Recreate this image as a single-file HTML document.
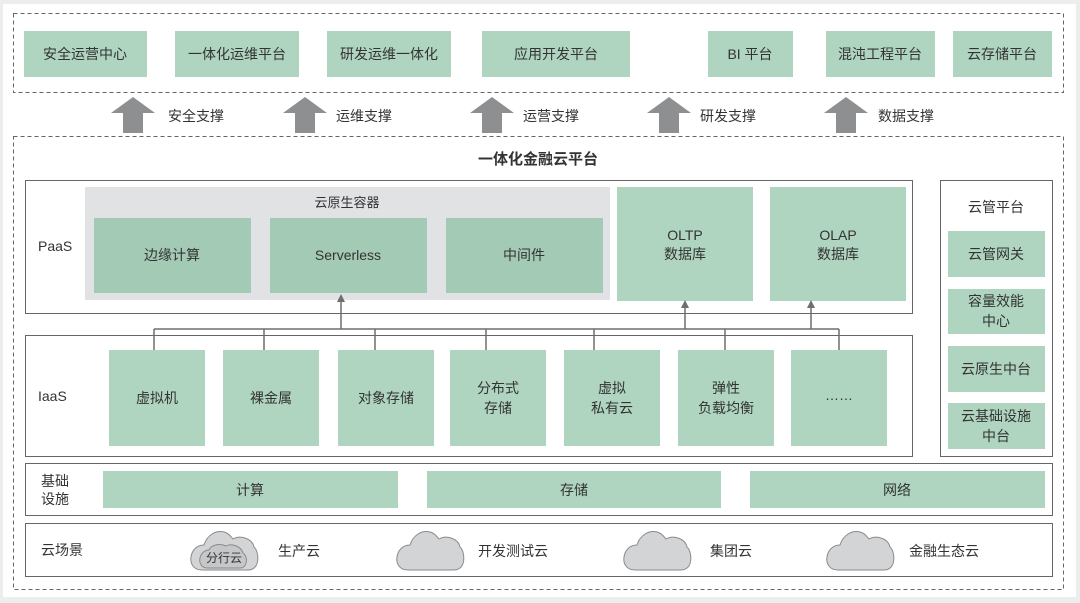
<!DOCTYPE html>
<html><head><meta charset="utf-8"><style>
html,body{margin:0;padding:0;background:#eceeed;}
svg{display:block}
text{font-family:"Liberation Sans","Noto Sans CJK SC",sans-serif;fill:#333;font-size:14px}
.c{text-anchor:middle}
</style></head><body>
<svg width="1080" height="603" viewBox="0 0 1080 603" xmlns="http://www.w3.org/2000/svg">
<defs>
<path id="cl" d="M12,41 C3,41 0,34 1,28 C2,21 7,16 14,16 C17,6 26,1 34,3 C39,4 41,8 43,10 C50,6 62,9 64,18 C69,22 71,41 58,41 Z" fill="#d3d4d6" stroke="#8a8a8a" stroke-width="1"/>
<path id="ar" d="M-22,16 L0,0 L22,16 L10,16 L10,36 L-10,36 L-10,16 Z" fill="#8e8f91"/>
</defs>
<rect x="3" y="4" width="1073" height="593" fill="#fff"/>
<rect x="13.5" y="13.5" width="1050" height="79" fill="none" stroke="#666" stroke-dasharray="4,3"/>
<g fill="#afd5c0">
<rect x="24" y="31" width="123" height="46"/><rect x="175" y="31" width="124" height="46"/><rect x="327" y="31" width="124" height="46"/><rect x="482" y="31" width="148" height="46"/><rect x="708" y="31" width="85" height="46"/><rect x="826" y="31" width="109" height="46"/><rect x="953" y="31" width="99" height="46"/>
</g>
<text x="85" y="59" class="c">安全运营中心</text><text x="237" y="59" class="c">一体化运维平台</text><text x="389" y="59" class="c">研发运维一体化</text><text x="556" y="59" class="c">应用开发平台</text><text x="750" y="59" class="c">BI 平台</text><text x="880" y="59" class="c">混沌工程平台</text><text x="1002" y="59" class="c">云存储平台</text>
<use href="#ar" x="133" y="97"/><use href="#ar" x="305" y="97"/><use href="#ar" x="492" y="97"/><use href="#ar" x="669" y="97"/><use href="#ar" x="846" y="97"/>
<text x="168" y="121">安全支撑</text><text x="336" y="121">运维支撑</text><text x="523" y="121">运营支撑</text><text x="700" y="121">研发支撑</text><text x="878" y="121">数据支撑</text>
<rect x="13.5" y="136.5" width="1050" height="453" fill="none" stroke="#666" stroke-dasharray="4,3"/>
<text x="538" y="164" class="c" style="font-size:15px;font-weight:bold">一体化金融云平台</text>
<rect x="25.5" y="180.5" width="887" height="133" fill="#fff" stroke="#666"/>
<text x="38" y="251">PaaS</text>
<rect x="85" y="187" width="525" height="113" fill="#e1e2e3"/>
<text x="347" y="207" class="c" style="font-size:13px">云原生容器</text>
<g fill="#a3cab5"><rect x="94" y="218" width="157" height="75"/><rect x="270" y="218" width="157" height="75"/><rect x="446" y="218" width="157" height="75"/></g>
<text x="172" y="260" class="c">边缘计算</text><text x="348" y="260" class="c">Serverless</text><text x="524" y="260" class="c">中间件</text>
<g fill="#afd5c0"><rect x="617" y="187" width="136" height="114"/><rect x="770" y="187" width="136" height="114"/></g>
<text x="685" y="240" class="c">OLTP</text><text x="685" y="259" class="c">数据库</text>
<text x="838" y="240" class="c">OLAP</text><text x="838" y="259" class="c">数据库</text>
<rect x="25.5" y="335.5" width="887" height="121" fill="#fff" stroke="#666"/>
<text x="38" y="401">IaaS</text>
<g fill="#afd5c0">
<rect x="109" y="350" width="96" height="96"/><rect x="223" y="350" width="96" height="96"/><rect x="338" y="350" width="96" height="96"/><rect x="450" y="350" width="96" height="96"/><rect x="564" y="350" width="96" height="96"/><rect x="678" y="350" width="96" height="96"/><rect x="791" y="350" width="96" height="96"/>
</g>
<text x="157" y="403" class="c">虚拟机</text><text x="271" y="403" class="c">裸金属</text><text x="386" y="403" class="c">对象存储</text>
<text x="498" y="393" class="c">分布式</text><text x="498" y="413" class="c">存储</text>
<text x="612" y="393" class="c">虚拟</text><text x="612" y="413" class="c">私有云</text>
<text x="726" y="393" class="c">弹性</text><text x="726" y="413" class="c">负载均衡</text>
<text x="839" y="400" class="c">……</text>
<g stroke="#6e6e6e" stroke-width="1.5" fill="none">
<path d="M154,329 H839"/>
<path d="M154,329 V350 M264,329 V350 M375,329 V350 M486,329 V350 M594,329 V350 M725,329 V350 M839,329 V350"/>
<path d="M341,329 V300 M685,329 V306 M811,329 V306"/>
</g>
<g fill="#6e6e6e"><path d="M337,302 L341,294 L345,302Z"/><path d="M681,308 L685,300 L689,308Z"/><path d="M807,308 L811,300 L815,308Z"/></g>
<rect x="940.5" y="180.5" width="112" height="276" fill="#fff" stroke="#666"/>
<text x="996" y="212" class="c">云管平台</text>
<g fill="#afd5c0"><rect x="948" y="231" width="97" height="46"/><rect x="948" y="289" width="97" height="45"/><rect x="948" y="346" width="97" height="46"/><rect x="948" y="403" width="97" height="46"/></g>
<text x="996" y="259" class="c">云管网关</text>
<text x="996" y="306" class="c">容量效能</text><text x="996" y="326" class="c">中心</text>
<text x="996" y="374" class="c">云原生中台</text>
<text x="996" y="421" class="c">云基础设施</text><text x="996" y="441" class="c">中台</text>
<rect x="25.5" y="463.5" width="1027" height="52" fill="#fff" stroke="#666"/>
<text x="41" y="486">基础</text><text x="41" y="504">设施</text>
<g fill="#afd5c0"><rect x="103" y="471" width="295" height="37"/><rect x="427" y="471" width="294" height="37"/><rect x="750" y="471" width="295" height="37"/></g>
<text x="250" y="495" class="c">计算</text><text x="574" y="495" class="c">存储</text><text x="897" y="495" class="c">网络</text>
<rect x="25.5" y="523.5" width="1027" height="53" fill="#fff" stroke="#666"/>
<text x="41" y="555">云场景</text>
<use href="#cl" x="190" y="529"/>
<path d="M207,568 C201,568 199,562 200,558 C201,553 205,550 209,550 C211,545 219,543 226,546 C231,543 241,546 243,553 C248,556 248,568 240,568 Z" fill="#c6c7c9" stroke="#8a8a8a"/>
<text x="224" y="562" class="c" style="font-size:12px">分行云</text>
<text x="278" y="556">生产云</text>
<use href="#cl" x="396" y="529"/><text x="478" y="556">开发测试云</text>
<use href="#cl" x="623" y="529"/><text x="710" y="556">集团云</text>
<use href="#cl" x="826" y="529"/><text x="909" y="556">金融生态云</text>
</svg>
</body></html>
